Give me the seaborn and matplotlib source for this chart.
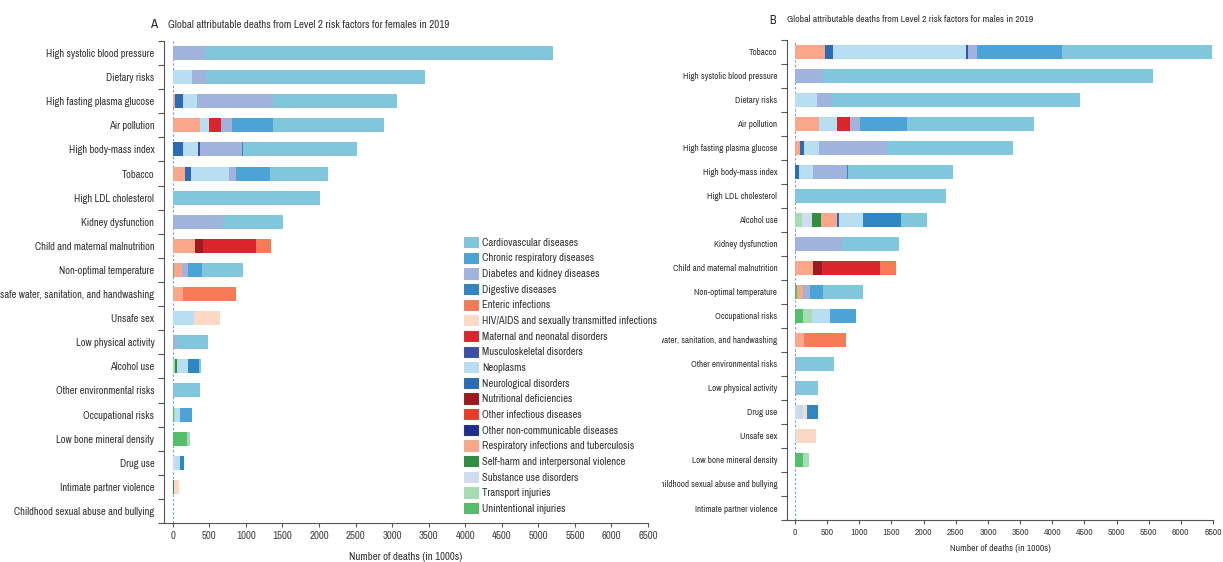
import seaborn as sns
import matplotlib.pyplot as plt
from matplotlib import font_manager as fm
from matplotlib.font_manager import FontProperties
from matplotlib.patches import Patch
from matplotlib.textpath import TextPath
from matplotlib.ticker import FixedLocator, MultipleLocator
from matplotlib.transforms import Bbox, TransformedBbox
import numpy as np
import pandas as pd

plt.switch_backend('Agg')

# Legend order (alphabetical, as in the figure) and colours
CAUSES = [
    "Cardiovascular diseases", "Chronic respiratory diseases",
    "Diabetes and kidney diseases", "Digestive diseases", "Enteric infections",
    "HIV/AIDS and sexually transmitted infections", "Maternal and neonatal disorders",
    "Musculoskeletal disorders", "Neoplasms", "Neurological disorders",
    "Nutritional deficiencies", "Other infectious diseases",
    "Other non-communicable diseases", "Respiratory infections and tuberculosis",
    "Self-harm and interpersonal violence", "Substance use disorders",
    "Transport injuries", "Unintentional injuries",
]
COLORS = [
    "#80c6dd", "#4ba3d6", "#a0b3dc", "#2e86c3", "#f47b55",
    "#fcd9c6", "#d9252b", "#3c4fa3", "#b8def1", "#2a6db6",
    "#9b1b1f", "#ee3b25", "#1f2d8f", "#f9a68b",
    "#2f8f3f", "#cfdcf0", "#a6dcb4", "#55be6a",
]

# Order of the segments inside each bar, from 0 outwards
STACK_ORDER = [
    "Unintentional injuries", "Transport injuries", "Substance use disorders",
    "Self-harm and interpersonal violence", "Respiratory infections and tuberculosis",
    "Nutritional deficiencies", "Neurological disorders", "Neoplasms",
    "Maternal and neonatal disorders", "Other infectious diseases", "Enteric infections",
    "HIV/AIDS and sexually transmitted infections", "Musculoskeletal disorders",
    "Other non-communicable diseases", "Diabetes and kidney diseases",
    "Digestive diseases", "Chronic respiratory diseases", "Cardiovascular diseases",
]

# ---- females (deaths in 1000s) ----
F_RISKS = [
    "High systolic blood pressure", "Dietary risks", "High fasting plasma glucose",
    "Air pollution", "High body-mass index", "Tobacco", "High LDL cholesterol",
    "Kidney dysfunction", "Child and maternal malnutrition", "Non-optimal temperature",
    "Unsafe water, sanitation, and handwashing", "Unsafe sex", "Low physical activity",
    "Alcohol use", "Other environmental risks", "Occupational risks",
    "Low bone mineral density", "Drug use", "Intimate partner violence",
    "Childhood sexual abuse and bullying",
]
f_unintentional = [0, 0, 0, 0, 0, 0, 0, 0, 0, 20, 0, 0, 0, 0, 0, 20, 200, 0, 0, 0]
f_transport     = [0, 0, 0, 0, 0, 0, 0, 0, 0, 0, 0, 0, 0, 30, 0, 15, 30, 0, 0, 0]
f_substance     = [0, 0, 0, 0, 0, 0, 0, 0, 0, 0, 0, 0, 0, 0, 0, 0, 0, 40, 0, 0]
f_selfharm      = [0, 0, 0, 0, 0, 0, 0, 0, 0, 0, 0, 0, 0, 30, 0, 0, 0, 0, 15, 0]
f_respiratory   = [0, 0, 30, 370, 0, 165, 0, 0, 300, 100, 140, 0, 0, 0, 0, 0, 0, 0, 0, 0]
f_nutritional   = [0, 0, 0, 0, 0, 0, 0, 0, 115, 0, 0, 0, 0, 0, 0, 0, 0, 0, 0, 0]
f_neurological  = [0, 0, 110, 0, 140, 80, 0, 0, 0, 0, 0, 0, 0, 0, 0, 0, 0, 0, 0, 0]
f_neoplasms     = [0, 260, 190, 120, 200, 520, 0, 0, 0, 0, 0, 290, 0, 145, 0, 60, 0, 55, 0, 0]
f_maternal      = [0, 0, 0, 170, 0, 0, 0, 0, 725, 0, 0, 0, 0, 0, 0, 0, 0, 0, 0, 0]
f_other_inf     = [0] * 20
f_enteric       = [0, 0, 0, 0, 0, 0, 0, 0, 210, 0, 725, 0, 0, 0, 0, 0, 0, 0, 0, 0]
f_hiv           = [0, 0, 0, 0, 0, 0, 0, 0, 0, 0, 0, 355, 0, 0, 0, 0, 0, 0, 65, 0]
f_musculo       = [0, 0, 0, 0, 30, 0, 0, 0, 0, 0, 0, 0, 0, 0, 0, 0, 0, 0, 0, 0]
f_other_ncd     = [0] * 20
f_diabetes      = [440, 200, 1040, 150, 575, 95, 0, 690, 0, 90, 0, 0, 60, 0, 10, 0, 0, 0, 0, 0]
f_digestive     = [0, 0, 0, 0, 20, 0, 0, 0, 0, 0, 0, 0, 0, 160, 0, 0, 0, 60, 0, 0]
f_chronic_resp  = [0, 0, 0, 560, 0, 470, 0, 0, 0, 185, 0, 0, 0, 0, 0, 170, 0, 0, 0, 0]
f_cardio        = [4760, 2990, 1700, 1520, 1555, 790, 2010, 820, 0, 560, 0, 0, 415, 20, 360, 0, 0, 0, 0, 0]

# ---- males (deaths in 1000s) ----
M_RISKS = [
    "Tobacco", "High systolic blood pressure", "Dietary risks", "Air pollution",
    "High fasting plasma glucose", "High body-mass index", "High LDL cholesterol",
    "Alcohol use", "Kidney dysfunction", "Child and maternal malnutrition",
    "Non-optimal temperature", "Occupational risks",
    "Unsafe water, sanitation, and handwashing", "Other environmental risks",
    "Low physical activity", "Drug use", "Unsafe sex", "Low bone mineral density",
    "Childhood sexual abuse and bullying", "Intimate partner violence",
]
m_unintentional = [0, 0, 0, 0, 0, 0, 0, 0, 0, 0, 25, 120, 0, 0, 0, 0, 0, 130, 0, 0]
m_transport     = [0, 0, 0, 0, 0, 0, 0, 105, 0, 0, 0, 140, 0, 0, 0, 0, 0, 90, 0, 0]
m_substance     = [0, 0, 0, 0, 0, 0, 0, 155, 0, 0, 0, 0, 0, 0, 0, 60, 0, 0, 0, 0]
m_selfharm      = [0, 0, 0, 0, 0, 0, 0, 145, 0, 0, 0, 0, 0, 0, 0, 0, 0, 0, 0, 0]
m_respiratory   = [465, 0, 0, 375, 80, 0, 0, 245, 0, 285, 105, 0, 140, 0, 0, 0, 0, 0, 0, 0]
m_nutritional   = [0, 0, 0, 0, 0, 0, 0, 0, 0, 135, 0, 0, 0, 0, 0, 0, 0, 0, 0, 0]
m_neurological  = [125, 0, 0, 0, 60, 60, 0, 35, 0, 0, 0, 0, 0, 0, 0, 0, 0, 0, 0, 0]
m_neoplasms     = [2070, 0, 340, 275, 235, 220, 0, 375, 0, 0, 0, 285, 0, 0, 0, 60, 20, 0, 0, 0]
m_maternal      = [0, 0, 0, 205, 0, 0, 0, 0, 0, 905, 0, 0, 0, 0, 0, 0, 0, 0, 0, 0]
m_other_inf     = [0] * 20
m_enteric       = [0, 0, 0, 0, 0, 0, 0, 0, 0, 245, 0, 0, 650, 0, 0, 0, 0, 0, 0, 0]
m_hiv           = [0, 0, 0, 0, 0, 0, 0, 0, 0, 0, 0, 0, 0, 0, 0, 70, 310, 0, 0, 0]
m_musculo       = [30, 0, 0, 0, 0, 0, 0, 0, 0, 0, 0, 0, 0, 0, 0, 0, 0, 0, 0, 0]
m_other_ncd     = [0] * 20
m_diabetes      = [140, 435, 235, 155, 1055, 530, 0, 0, 730, 0, 95, 0, 0, 25, 25, 0, 0, 0, 0, 0]
m_digestive     = [0, 0, 0, 0, 0, 20, 0, 590, 0, 0, 0, 0, 0, 0, 0, 160, 0, 0, 0, 0]
m_chronic_resp  = [1320, 0, 0, 730, 0, 0, 0, 0, 0, 0, 215, 400, 0, 0, 0, 0, 0, 0, 0, 0]
m_cardio        = [2340, 5135, 3855, 1980, 1960, 1630, 2350, 400, 890, 0, 610, 0, 0, 580, 325, 0, 0, 0, 0, 0]


def build_frame(risks, arrays):
    """Table of risk factor x cause, columns in stacking order"""
    return pd.DataFrame(dict(zip(STACK_ORDER, arrays)), index=risks)


female = build_frame(F_RISKS, [
    f_unintentional, f_transport, f_substance, f_selfharm, f_respiratory,
    f_nutritional, f_neurological, f_neoplasms, f_maternal, f_other_inf,
    f_enteric, f_hiv, f_musculo, f_other_ncd, f_diabetes, f_digestive,
    f_chronic_resp, f_cardio])
male = build_frame(M_RISKS, [
    m_unintentional, m_transport, m_substance, m_selfharm, m_respiratory,
    m_nutritional, m_neurological, m_neoplasms, m_maternal, m_other_inf,
    m_enteric, m_hiv, m_musculo, m_other_ncd, m_diabetes, m_digestive,
    m_chronic_resp, m_cardio])

color_of = dict(zip(CAUSES, COLORS))

# The original uses a condensed face; take one if it is installed
FONT, STRETCH = 'Liberation Sans', 'normal'
for f in fm.fontManager.ttflist:
    if ('Narrow' in f.name or 'Condensed' in f.name) and f.style == 'normal':
        FONT, STRETCH = f.name, f.stretch
        break
    if f.stretch in ('condensed', 'semi-condensed') and f.style == 'normal' \
            and f.name in ('Noto Sans', 'Open Sans', 'DejaVu Sans', 'Roboto'):
        FONT, STRETCH = f.name, f.stretch


def fit_size(text, width_px, weight='normal'):
    """Font size (pt) that gives `text` the width it has in the figure"""
    prop = FontProperties(family=FONT, stretch=STRETCH, weight=weight)
    w = TextPath((0, 0), text, size=10, prop=prop).get_extents().width
    return 10 * width_px / (w * 100 / 72)


sns.set_theme(style="ticks")
plt.rcParams['font.family'] = [FONT, 'DejaVu Sans']
plt.rcParams['font.stretch'] = STRETCH
plt.rcParams['axes.edgecolor'] = '#555555'
plt.rcParams['axes.linewidth'] = 0.8

fig = plt.figure(figsize=(12.23, 5.62), dpi=100)


def stacked_panel(ax, df, xmin, ylab_px, xtick_px, xlab_px, xlab_pad):
    """Stacked horizontal bars: draw cumulative totals from the outside in"""
    cum = df.cumsum(axis=1)
    risks = list(df.index)
    ax.axvline(0, color='#6a9fd0', ls=(0, (2, 2)), lw=0.8, zorder=0)
    for cause in reversed(STACK_ORDER):
        sns.barplot(x=cum[cause].values, y=risks, order=risks, orient='h',
                    color=color_of[cause], saturation=1, width=0.58,
                    linewidth=0, ax=ax)
    ax.set_xlim(xmin, 6500)
    ax.set_ylim(len(risks) - 0.5, -0.5)
    ax.xaxis.set_major_locator(MultipleLocator(500))
    ax.yaxis.set_minor_locator(FixedLocator(np.arange(-0.5, len(risks), 1)))
    ax.tick_params(axis='y', which='major', length=0, pad=7,
                   labelsize=fit_size("High systolic blood pressure", ylab_px),
                   labelcolor='#333333')
    ax.tick_params(axis='y', which='minor', length=4, width=0.8, color='#555555')
    ax.tick_params(axis='x', length=3, width=0.8, color='#555555',
                   labelsize=fit_size("2000", xtick_px), labelcolor='#444444', pad=3)
    ax.set_ylabel('')
    ax.set_xlabel('Number of deaths (in 1000s)', color='#333333', labelpad=xlab_pad,
                  fontsize=fit_size('Number of deaths (in 1000s)', xlab_px))
    sns.despine(ax=ax)


ax_f = fig.add_axes([164 / 1223, 1 - 523 / 562, 484 / 1223, 482 / 562])
stacked_panel(ax_f, female, -120, 107, 19, 112, 8)

ax_m = fig.add_axes([787 / 1223, 1 - 520 / 562, 426 / 1223, 480 / 562])
stacked_panel(ax_m, male, -125, 93, 17, 99, 5)

# the right panel's long labels are cut off by the left panel area
clip = TransformedBbox(Bbox([[662 / 1223, 0], [1, 1]]), fig.transFigure)
for lbl in ax_m.get_yticklabels():
    lbl.set_clip_box(clip)
    lbl.set_clip_on(True)

# panel titles
title_f = "Global attributable deaths from Level 2 risk factors for females in 2019"
title_m = "Global attributable deaths from Level 2 risk factors for males in 2019"
size_f = fit_size(title_f, 280, 'bold')
size_m = fit_size(title_m, 243, 'bold')
fig.text(150 / 1223, 1 - 25 / 562, "A", fontsize=size_f + 1.5, fontweight='bold',
         color='#222222', va='center')
fig.text(168 / 1223, 1 - 25 / 562, title_f, fontsize=size_f, fontweight='bold',
         color='#333333', va='center')
fig.text(769 / 1223, 1 - 20 / 562, "B", fontsize=size_m + 1.5, fontweight='bold',
         color='#222222', va='center')
fig.text(787 / 1223, 1 - 20 / 562, title_m, fontsize=size_m, fontweight='bold',
         color='#333333', va='center')

# legend
handles = [Patch(facecolor=c, edgecolor=sns.desaturate(c, 0.8), linewidth=0.8)
           for c in COLORS]
leg_size = fit_size("HIV/AIDS and sexually transmitted infections", 174)
fig.legend(handles, CAUSES, loc='upper left',
           bbox_to_anchor=(464 / 1223, 1 - 237 / 562), frameon=False,
           fontsize=leg_size, handlelength=1.3, handleheight=1.1, handletextpad=0.4,
           labelspacing=0.47 * 7.5 / leg_size, borderpad=0, borderaxespad=0,
           labelcolor='#333333')

fig.savefig('out.png', dpi=100)
plt.close(fig)
